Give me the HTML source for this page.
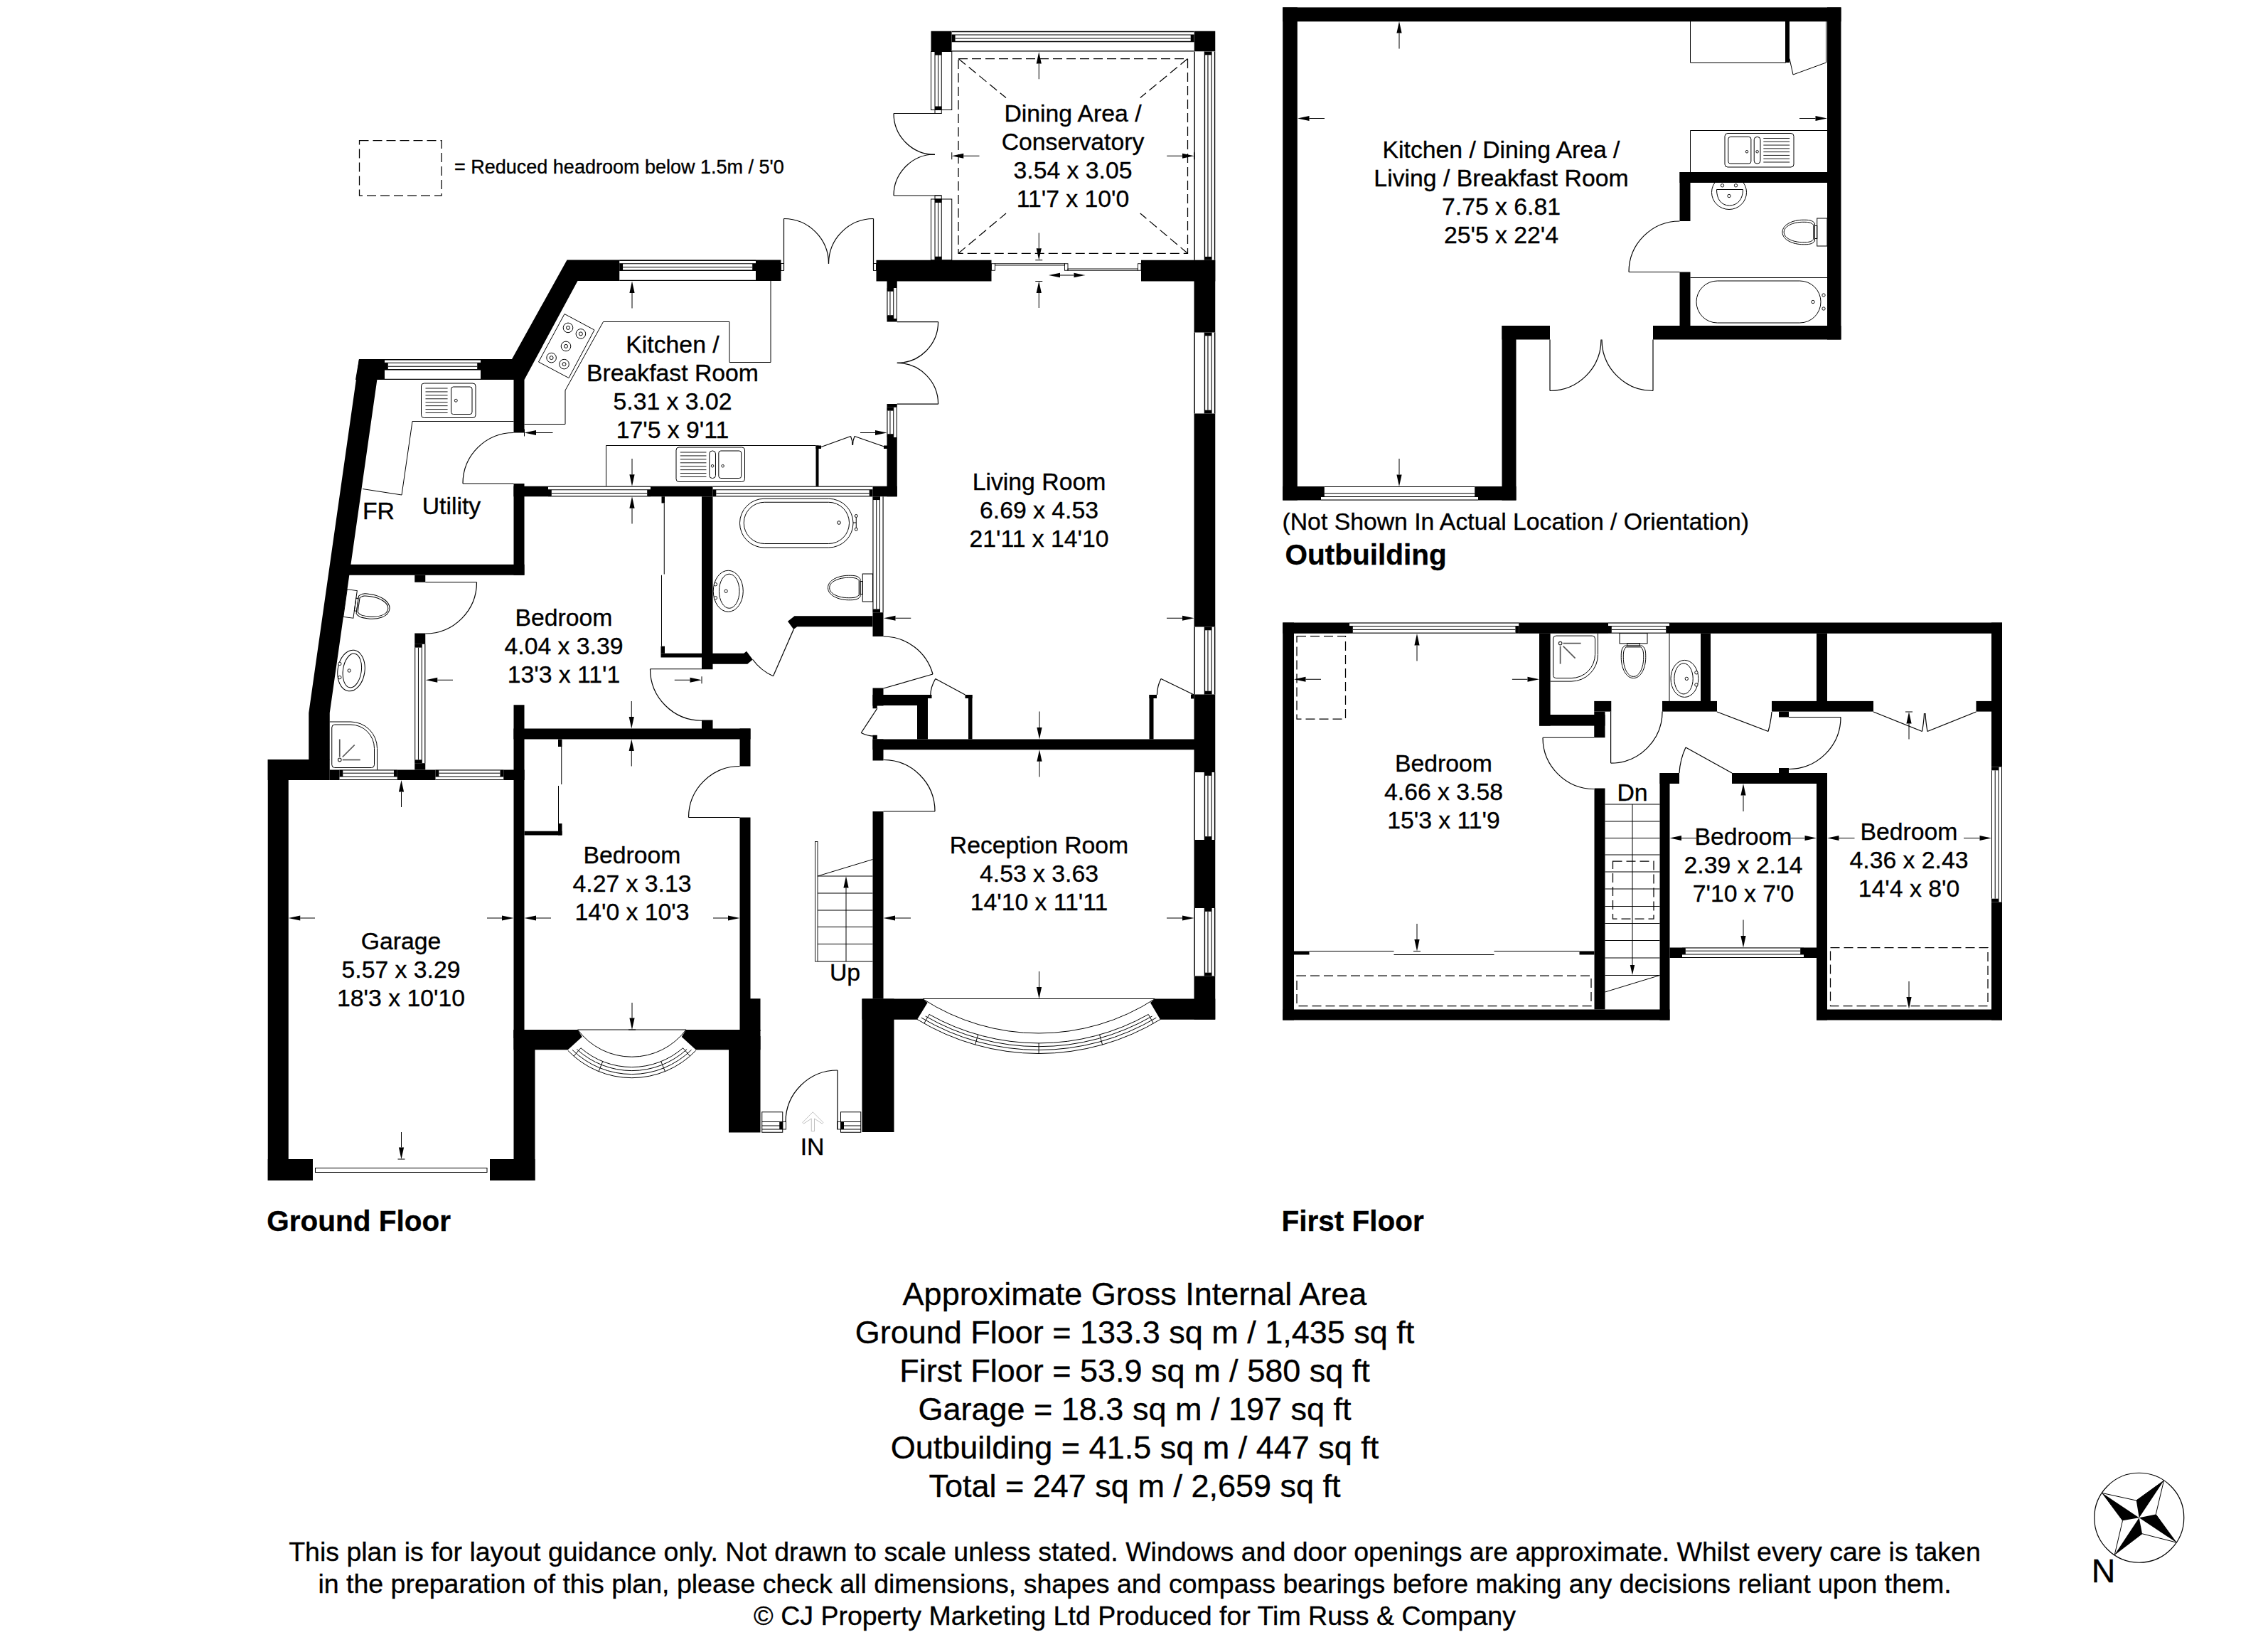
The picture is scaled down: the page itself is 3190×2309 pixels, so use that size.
<!DOCTYPE html>
<html><head><meta charset="utf-8"><title>Floor plan</title>
<style>
html,body{margin:0;padding:0;background:#fff}
svg{display:block}
text{font-family:"Liberation Sans",Arial,Helvetica,sans-serif;fill:#000;stroke:#000;stroke-width:0.35px}
</style></head><body>
<svg width="3190" height="2309" viewBox="0 0 3190 2309">
<rect x="0" y="0" width="3190" height="2309" fill="#fff"/>
<polygon points="797.5,365.5 1098.5,365.5 1098.5,395 812.5,395 737.5,534 720,534 720,505" fill="#000"/>
<rect x="871.25" y="365.5" width="191.75" height="29.5" fill="#fff"/>
<rect x="871.25" y="370.7" width="4.8" height="9.6" fill="#000"/>
<rect x="1058.2" y="370.7" width="4.8" height="9.6" fill="#000"/>
<line x1="871.25" y1="366.2" x2="1063" y2="366.2" stroke="#000" stroke-width="1.4"/>
<line x1="871.25" y1="370.7" x2="1063" y2="370.7" stroke="#000" stroke-width="1.1"/>
<line x1="876.05" y1="375.8" x2="1058.2" y2="375.8" stroke="#000" stroke-width="1.1"/>
<line x1="871.25" y1="380.3" x2="1063" y2="380.3" stroke="#000" stroke-width="1.4"/>
<line x1="871.25" y1="394.4" x2="1063" y2="394.4" stroke="#000" stroke-width="1.4"/>
<polygon points="505,505 721,505 721,534 500,534" fill="#000"/>
<rect x="541" y="505" width="135" height="29" fill="#fff"/>
<rect x="541" y="510.2" width="4.8" height="9.6" fill="#000"/>
<rect x="671.2" y="510.2" width="4.8" height="9.6" fill="#000"/>
<line x1="541" y1="505.7" x2="676" y2="505.7" stroke="#000" stroke-width="1.4"/>
<line x1="541" y1="510.2" x2="676" y2="510.2" stroke="#000" stroke-width="1.1"/>
<line x1="545.8" y1="515.3" x2="671.2" y2="515.3" stroke="#000" stroke-width="1.1"/>
<line x1="541" y1="519.8" x2="676" y2="519.8" stroke="#000" stroke-width="1.4"/>
<line x1="541" y1="533.4" x2="676" y2="533.4" stroke="#000" stroke-width="1.4"/>
<polygon points="505,505 534.5,505 463.75,1002.5 463.75,1068.5 434.25,1068.5 434.25,1002.5" fill="#000"/>
<rect x="376.75" y="1068" width="29" height="592" fill="#000"/>
<rect x="376.75" y="1068" width="87" height="29" fill="#000"/>
<rect x="463.75" y="1082.5" width="273.75" height="14.5" fill="#000"/>
<rect x="477.5" y="1082.5" width="81.25" height="14.5" fill="#fff"/>
<rect x="477.5" y="1082.5" width="4.8" height="9.5" fill="#000"/>
<rect x="553.95" y="1082.5" width="4.8" height="9.5" fill="#000"/>
<line x1="477.5" y1="1096.5" x2="558.75" y2="1096.5" stroke="#000" stroke-width="1"/>
<line x1="477.5" y1="1092" x2="558.75" y2="1092" stroke="#000" stroke-width="1"/>
<line x1="482.3" y1="1087.2" x2="553.95" y2="1087.2" stroke="#000" stroke-width="1"/>
<line x1="482.3" y1="1083" x2="553.95" y2="1083" stroke="#000" stroke-width="1"/>
<rect x="612.5" y="1082.5" width="95.75" height="14.5" fill="#fff"/>
<rect x="612.5" y="1082.5" width="4.8" height="9.5" fill="#000"/>
<rect x="703.45" y="1082.5" width="4.8" height="9.5" fill="#000"/>
<line x1="612.5" y1="1096.5" x2="708.25" y2="1096.5" stroke="#000" stroke-width="1"/>
<line x1="612.5" y1="1092" x2="708.25" y2="1092" stroke="#000" stroke-width="1"/>
<line x1="617.3" y1="1087.2" x2="703.45" y2="1087.2" stroke="#000" stroke-width="1"/>
<line x1="617.3" y1="1083" x2="703.45" y2="1083" stroke="#000" stroke-width="1"/>
<rect x="376.75" y="1630" width="63.25" height="30" fill="#000"/>
<rect x="722.5" y="991.25" width="15" height="468.75" fill="#000"/>
<rect x="722.5" y="1448.5" width="30" height="211.5" fill="#000"/>
<rect x="689" y="1630" width="63.5" height="30" fill="#000"/>
<rect x="443.5" y="1642.5" width="241.5" height="6" fill="none" stroke="#000" stroke-width="1"/>
<rect x="470" y="793.75" width="267.5" height="15" fill="#000"/>
<rect x="722.5" y="534" width="15" height="74.5" fill="#000"/>
<rect x="722.5" y="680" width="15" height="128.75" fill="#000"/>
<rect x="722.5" y="683.75" width="539.25" height="14.5" fill="#000"/>
<rect x="771" y="683.75" width="144" height="14.5" fill="#fff"/>
<rect x="771" y="688.75" width="4.8" height="9.5" fill="#000"/>
<rect x="910.2" y="688.75" width="4.8" height="9.5" fill="#000"/>
<line x1="771" y1="684.25" x2="915" y2="684.25" stroke="#000" stroke-width="1"/>
<line x1="771" y1="688.75" x2="915" y2="688.75" stroke="#000" stroke-width="1"/>
<line x1="775.8" y1="693.55" x2="910.2" y2="693.55" stroke="#000" stroke-width="1"/>
<line x1="775.8" y1="697.75" x2="910.2" y2="697.75" stroke="#000" stroke-width="1"/>
<rect x="1002.5" y="683.75" width="225" height="14.5" fill="#fff"/>
<rect x="1002.5" y="688.75" width="4.8" height="9.5" fill="#000"/>
<rect x="1222.7" y="688.75" width="4.8" height="9.5" fill="#000"/>
<line x1="1002.5" y1="684.25" x2="1227.5" y2="684.25" stroke="#000" stroke-width="1"/>
<line x1="1002.5" y1="688.75" x2="1227.5" y2="688.75" stroke="#000" stroke-width="1"/>
<line x1="1007.3" y1="693.55" x2="1222.7" y2="693.55" stroke="#000" stroke-width="1"/>
<line x1="1007.3" y1="697.75" x2="1222.7" y2="697.75" stroke="#000" stroke-width="1"/>
<rect x="583.25" y="808.75" width="15" height="10" fill="#000"/>
<rect x="583.25" y="890.5" width="15" height="192" fill="#000"/>
<rect x="583.25" y="905.8" width="15" height="167.4" fill="#fff"/>
<rect x="583.25" y="905.8" width="10" height="4.8" fill="#000"/>
<rect x="583.25" y="1068.4" width="10" height="4.8" fill="#000"/>
<line x1="597.75" y1="905.8" x2="597.75" y2="1073.2" stroke="#000" stroke-width="1"/>
<line x1="593.25" y1="905.8" x2="593.25" y2="1073.2" stroke="#000" stroke-width="1"/>
<line x1="588.45" y1="910.6" x2="588.45" y2="1068.4" stroke="#000" stroke-width="1"/>
<line x1="583.75" y1="910.6" x2="583.75" y2="1068.4" stroke="#000" stroke-width="1"/>
<rect x="987" y="698.25" width="15.5" height="243" fill="#000"/>
<rect x="987" y="1012.5" width="15.5" height="12.5" fill="#000"/>
<polygon points="987,918.75 1046.25,918.75 1050,915.75 1058.75,927.5 1051.25,933.75 987,933.75" fill="#000"/>
<rect x="930.5" y="698.25" width="4.5" height="9.25" fill="#000"/>
<line x1="934.25" y1="707.5" x2="934.25" y2="807.5" stroke="#000" stroke-width="1"/>
<line x1="930.5" y1="808.75" x2="930.5" y2="908.75" stroke="#000" stroke-width="1"/>
<rect x="929.5" y="908.75" width="5.5" height="10" fill="#000"/>
<rect x="929.5" y="918.75" width="57.5" height="5.75" fill="#000"/>
<polygon points="1117.5,866.25 1227.5,866.25 1227.5,881.25 1121.25,881.25 1116.25,885 1108,873.75" fill="#000"/>
<rect x="1227.5" y="698.25" width="15" height="196.75" fill="#000"/>
<rect x="1227.5" y="698.25" width="15" height="163" fill="#fff"/>
<rect x="1227.5" y="698.25" width="10" height="4.8" fill="#000"/>
<rect x="1227.5" y="856.45" width="10" height="4.8" fill="#000"/>
<line x1="1242" y1="698.25" x2="1242" y2="861.25" stroke="#000" stroke-width="1"/>
<line x1="1237.5" y1="698.25" x2="1237.5" y2="861.25" stroke="#000" stroke-width="1"/>
<line x1="1232.7" y1="703.05" x2="1232.7" y2="856.45" stroke="#000" stroke-width="1"/>
<line x1="1228" y1="703.05" x2="1228" y2="856.45" stroke="#000" stroke-width="1"/>
<rect x="1247.5" y="395" width="14.25" height="57.5" fill="#000"/>
<rect x="1247.5" y="568" width="14.25" height="130.25" fill="#000"/>
<rect x="1247.5" y="405" width="14.25" height="43" fill="#fff"/>
<rect x="1247.5" y="405" width="9.25" height="4.8" fill="#000"/>
<rect x="1247.5" y="443.2" width="9.25" height="4.8" fill="#000"/>
<line x1="1261.25" y1="405" x2="1261.25" y2="448" stroke="#000" stroke-width="1"/>
<line x1="1256.75" y1="405" x2="1256.75" y2="448" stroke="#000" stroke-width="1"/>
<line x1="1251.95" y1="409.8" x2="1251.95" y2="443.2" stroke="#000" stroke-width="1"/>
<line x1="1248" y1="409.8" x2="1248" y2="443.2" stroke="#000" stroke-width="1"/>
<rect x="1247.5" y="572.8" width="14.25" height="42.2" fill="#fff"/>
<rect x="1247.5" y="572.8" width="9.25" height="4.8" fill="#000"/>
<rect x="1247.5" y="610.2" width="9.25" height="4.8" fill="#000"/>
<line x1="1261.25" y1="572.8" x2="1261.25" y2="615" stroke="#000" stroke-width="1"/>
<line x1="1256.75" y1="572.8" x2="1256.75" y2="615" stroke="#000" stroke-width="1"/>
<line x1="1251.95" y1="577.6" x2="1251.95" y2="610.2" stroke="#000" stroke-width="1"/>
<line x1="1248" y1="577.6" x2="1248" y2="610.2" stroke="#000" stroke-width="1"/>
<rect x="1232.5" y="365.75" width="162" height="29.75" fill="#000"/>
<rect x="1605" y="365.75" width="104.25" height="29.75" fill="#000"/>
<rect x="1309.5" y="43.75" width="29.25" height="28.75" fill="#000"/>
<rect x="1679.5" y="43.75" width="29.75" height="28.75" fill="#000"/>
<rect x="1338.75" y="43.75" width="340.75" height="28.75" fill="#fff"/>
<rect x="1338.75" y="48.95" width="4.8" height="9.6" fill="#000"/>
<rect x="1674.7" y="48.95" width="4.8" height="9.6" fill="#000"/>
<line x1="1338.75" y1="44.45" x2="1679.5" y2="44.45" stroke="#000" stroke-width="1.4"/>
<line x1="1338.75" y1="48.95" x2="1679.5" y2="48.95" stroke="#000" stroke-width="1.1"/>
<line x1="1343.55" y1="54.05" x2="1674.7" y2="54.05" stroke="#000" stroke-width="1.1"/>
<line x1="1338.75" y1="58.55" x2="1679.5" y2="58.55" stroke="#000" stroke-width="1.4"/>
<line x1="1338.75" y1="71.9" x2="1679.5" y2="71.9" stroke="#000" stroke-width="1.4"/>
<rect x="1679.5" y="72.5" width="29.75" height="293.25" fill="#fff"/>
<rect x="1694.45" y="72.5" width="9.6" height="4.8" fill="#000"/>
<rect x="1694.45" y="360.95" width="9.6" height="4.8" fill="#000"/>
<line x1="1708.55" y1="72.5" x2="1708.55" y2="365.75" stroke="#000" stroke-width="1.4"/>
<line x1="1704.05" y1="72.5" x2="1704.05" y2="365.75" stroke="#000" stroke-width="1.1"/>
<line x1="1698.95" y1="77.3" x2="1698.95" y2="360.95" stroke="#000" stroke-width="1.1"/>
<line x1="1694.45" y1="72.5" x2="1694.45" y2="365.75" stroke="#000" stroke-width="1.4"/>
<line x1="1680.1" y1="72.5" x2="1680.1" y2="365.75" stroke="#000" stroke-width="1.4"/>
<rect x="1309.5" y="72.5" width="29.25" height="82" fill="none" stroke="#000" stroke-width="1"/>
<line x1="1315" y1="72.5" x2="1315" y2="154.5" stroke="#000" stroke-width="1"/>
<line x1="1319.5" y1="72.5" x2="1319.5" y2="154.5" stroke="#000" stroke-width="1"/>
<line x1="1324.25" y1="72.5" x2="1324.25" y2="154.5" stroke="#000" stroke-width="1"/>
<rect x="1315" y="72.5" width="9.25" height="5" fill="#000"/>
<rect x="1315" y="149.5" width="9.25" height="5" fill="#000"/>
<rect x="1309.5" y="280" width="29.25" height="85.75" fill="none" stroke="#000" stroke-width="1"/>
<line x1="1315" y1="280" x2="1315" y2="365.75" stroke="#000" stroke-width="1"/>
<line x1="1319.5" y1="280" x2="1319.5" y2="365.75" stroke="#000" stroke-width="1"/>
<line x1="1324.25" y1="280" x2="1324.25" y2="365.75" stroke="#000" stroke-width="1"/>
<rect x="1315" y="280" width="9.25" height="5" fill="#000"/>
<rect x="1315" y="360.75" width="9.25" height="5" fill="#000"/>
<rect x="1315" y="154.5" width="9.25" height="5" fill="none" stroke="#000" stroke-width="1"/>
<rect x="1315" y="275" width="9.25" height="5" fill="none" stroke="#000" stroke-width="1"/>
<line x1="1324.25" y1="159.5" x2="1257" y2="159.5" stroke="#000" stroke-width="1.2"/>
<path d="M1257 159.5 A58 58 0 0 0 1315 217.5" fill="none" stroke="#000" stroke-width="1.2"/>
<line x1="1324.25" y1="275" x2="1257" y2="275" stroke="#000" stroke-width="1.2"/>
<path d="M1257 275 A58 58 0 0 1 1315 217" fill="none" stroke="#000" stroke-width="1.2"/>
<rect x="1399.5" y="370.75" width="98" height="2.25" fill="none" stroke="#000" stroke-width="0.9"/>
<rect x="1502" y="378" width="98.5" height="2.25" fill="none" stroke="#000" stroke-width="0.9"/>
<rect x="1394.5" y="370.75" width="5" height="9.5" fill="none" stroke="#000" stroke-width="0.9"/>
<rect x="1497.5" y="370.75" width="4.5" height="9.5" fill="none" stroke="#000" stroke-width="0.9"/>
<rect x="1600.5" y="370.75" width="4.5" height="9.5" fill="none" stroke="#000" stroke-width="0.9"/>
<line x1="1500" y1="387" x2="1491" y2="387" stroke="#000" stroke-width="1"/>
<polygon points="1475,387 1491,383.8 1491,390.2" fill="#000"/>
<line x1="1500" y1="387" x2="1510.5" y2="387" stroke="#000" stroke-width="1"/>
<polygon points="1526.5,387 1510.5,390.2 1510.5,383.8" fill="#000"/>
<rect x="1679.5" y="365.75" width="29.75" height="1067.75" fill="#000"/>
<rect x="1679.5" y="467.5" width="29.75" height="114" fill="#fff"/>
<rect x="1694.45" y="467.5" width="9.6" height="4.8" fill="#000"/>
<rect x="1694.45" y="576.7" width="9.6" height="4.8" fill="#000"/>
<line x1="1708.55" y1="467.5" x2="1708.55" y2="581.5" stroke="#000" stroke-width="1.4"/>
<line x1="1704.05" y1="467.5" x2="1704.05" y2="581.5" stroke="#000" stroke-width="1.1"/>
<line x1="1698.95" y1="472.3" x2="1698.95" y2="576.7" stroke="#000" stroke-width="1.1"/>
<line x1="1694.45" y1="467.5" x2="1694.45" y2="581.5" stroke="#000" stroke-width="1.4"/>
<line x1="1680.1" y1="467.5" x2="1680.1" y2="581.5" stroke="#000" stroke-width="1.4"/>
<rect x="1679.5" y="881.5" width="29.75" height="95" fill="#fff"/>
<rect x="1694.45" y="881.5" width="9.6" height="4.8" fill="#000"/>
<rect x="1694.45" y="971.7" width="9.6" height="4.8" fill="#000"/>
<line x1="1708.55" y1="881.5" x2="1708.55" y2="976.5" stroke="#000" stroke-width="1.4"/>
<line x1="1704.05" y1="881.5" x2="1704.05" y2="976.5" stroke="#000" stroke-width="1.1"/>
<line x1="1698.95" y1="886.3" x2="1698.95" y2="971.7" stroke="#000" stroke-width="1.1"/>
<line x1="1694.45" y1="881.5" x2="1694.45" y2="976.5" stroke="#000" stroke-width="1.4"/>
<line x1="1680.1" y1="881.5" x2="1680.1" y2="976.5" stroke="#000" stroke-width="1.4"/>
<rect x="1679.5" y="1086" width="29.75" height="95" fill="#fff"/>
<rect x="1694.45" y="1086" width="9.6" height="4.8" fill="#000"/>
<rect x="1694.45" y="1176.2" width="9.6" height="4.8" fill="#000"/>
<line x1="1708.55" y1="1086" x2="1708.55" y2="1181" stroke="#000" stroke-width="1.4"/>
<line x1="1704.05" y1="1086" x2="1704.05" y2="1181" stroke="#000" stroke-width="1.1"/>
<line x1="1698.95" y1="1090.8" x2="1698.95" y2="1176.2" stroke="#000" stroke-width="1.1"/>
<line x1="1694.45" y1="1086" x2="1694.45" y2="1181" stroke="#000" stroke-width="1.4"/>
<line x1="1680.1" y1="1086" x2="1680.1" y2="1181" stroke="#000" stroke-width="1.4"/>
<rect x="1679.5" y="1277" width="29.75" height="95.5" fill="#fff"/>
<rect x="1694.45" y="1277" width="9.6" height="4.8" fill="#000"/>
<rect x="1694.45" y="1367.7" width="9.6" height="4.8" fill="#000"/>
<line x1="1708.55" y1="1277" x2="1708.55" y2="1372.5" stroke="#000" stroke-width="1.4"/>
<line x1="1704.05" y1="1277" x2="1704.05" y2="1372.5" stroke="#000" stroke-width="1.1"/>
<line x1="1698.95" y1="1281.8" x2="1698.95" y2="1367.7" stroke="#000" stroke-width="1.1"/>
<line x1="1694.45" y1="1277" x2="1694.45" y2="1372.5" stroke="#000" stroke-width="1.4"/>
<line x1="1680.1" y1="1277" x2="1680.1" y2="1372.5" stroke="#000" stroke-width="1.4"/>
<rect x="1227.5" y="1039.5" width="481.5" height="14.75" fill="#000"/>
<rect x="1227.5" y="1039.5" width="15" height="30" fill="#000"/>
<rect x="1227.5" y="1141" width="15" height="263.5" fill="#000"/>
<rect x="1212.5" y="1404.5" width="45" height="187.5" fill="#000"/>
<polygon points="1212.5,1404.5 1298,1404.5 1304.6,1410 1290,1433.75 1212.5,1433.75" fill="#000"/>
<polygon points="1624.2,1404.5 1709.25,1404.5 1709.25,1433.75 1632,1433.75 1618,1410" fill="#000"/>
<rect x="1227.5" y="967.5" width="15" height="25" fill="#000"/>
<rect x="1227.5" y="977" width="77.5" height="15" fill="#000"/>
<rect x="1305" y="977" width="5.5" height="5" fill="#000"/>
<rect x="1227.5" y="992" width="6.25" height="4.25" fill="#000"/>
<rect x="1227.5" y="1033.75" width="6.25" height="5.75" fill="#000"/>
<rect x="1290" y="992" width="15" height="47.5" fill="#000"/>
<rect x="1362" y="977" width="5.5" height="62.5" fill="#000"/>
<rect x="1357.5" y="977" width="10" height="5" fill="#000"/>
<rect x="1616.5" y="977" width="6" height="62.5" fill="#000"/>
<rect x="1616.5" y="977" width="10.5" height="5" fill="#000"/>
<rect x="722.5" y="1024.5" width="333" height="15" fill="#000"/>
<rect x="1040.5" y="1024.5" width="15" height="53" fill="#000"/>
<rect x="1040.5" y="1149.5" width="15" height="299" fill="#000"/>
<rect x="1050" y="1404.25" width="19.5" height="45.75" fill="#000"/>
<polygon points="722.5,1448 812.5,1448 818.75,1458 798.75,1476.25 722.5,1476.25" fill="#000"/>
<polygon points="965,1448 1069.5,1448 1069.5,1476.25 978.75,1476.25 958.75,1458" fill="#000"/>
<rect x="1025" y="1457" width="44.5" height="135.5" fill="#000"/>
<rect x="785" y="1039.5" width="5.5" height="10.5" fill="#000"/>
<line x1="789.75" y1="1050" x2="789.75" y2="1103" stroke="#000" stroke-width="1"/>
<line x1="785.5" y1="1105" x2="785.5" y2="1158" stroke="#000" stroke-width="1"/>
<rect x="785" y="1158" width="5.5" height="16.5" fill="#000"/>
<rect x="737.5" y="1168.75" width="53" height="5.75" fill="#000"/>
<line x1="722.5" y1="680" x2="651" y2="680" stroke="#000" stroke-width="1.2"/>
<path d="M651 680 A71.5 71.5 0 0 1 722.5 608.5" fill="none" stroke="#000" stroke-width="1.2"/>
<line x1="598.25" y1="818.75" x2="670.5" y2="818.75" stroke="#000" stroke-width="1.2"/>
<path d="M670.5 818.75 A72.25 72.25 0 0 1 598.25 891" fill="none" stroke="#000" stroke-width="1.2"/>
<line x1="987" y1="940.75" x2="914.5" y2="940.75" stroke="#000" stroke-width="1.2"/>
<path d="M914.5 940.75 A72.5 72.5 0 0 0 987 1013.25" fill="none" stroke="#000" stroke-width="1.2"/>
<line x1="1116.25" y1="885" x2="1087.5" y2="950.75" stroke="#000" stroke-width="1.2"/>
<path d="M1087.5 950.75 A71.5 71.5 0 0 1 1058.75 927.5" fill="none" stroke="#000" stroke-width="1.2"/>
<line x1="1242.5" y1="968" x2="1312" y2="948" stroke="#000" stroke-width="1.2"/>
<path d="M1312 948 A72.3 72.3 0 0 0 1242.5 895" fill="none" stroke="#000" stroke-width="1.2"/>
<line x1="1242.5" y1="1141" x2="1315" y2="1141" stroke="#000" stroke-width="1.2"/>
<path d="M1315 1141 A72.5 72.5 0 0 0 1242.5 1068.5" fill="none" stroke="#000" stroke-width="1.2"/>
<line x1="1040.5" y1="1149.5" x2="968.5" y2="1149.5" stroke="#000" stroke-width="1.2"/>
<path d="M968.5 1149.5 A72 72 0 0 1 1040.5 1077.5" fill="none" stroke="#000" stroke-width="1.2"/>
<line x1="1233.75" y1="996.25" x2="1211.25" y2="1030.5" stroke="#000" stroke-width="1.2"/>
<path d="M1211.25 1030.5 Q1222 1036 1233.75 1035" fill="none" stroke="#000" stroke-width="1.2"/>
<line x1="1315.75" y1="954.5" x2="1357.5" y2="977" stroke="#000" stroke-width="1.2"/>
<path d="M1315.75 954.5 Q1309 966 1308.75 977.5" fill="none" stroke="#000" stroke-width="1.2"/>
<line x1="1679.3" y1="977" x2="1633" y2="954.5" stroke="#000" stroke-width="1.2"/>
<path d="M1633 954.5 Q1627.6 965 1627.4 977" fill="none" stroke="#000" stroke-width="1.2"/>
<rect x="1675" y="976.5" width="4.5" height="6" fill="#000"/>
<line x1="1102.5" y1="307.5" x2="1102.5" y2="380" stroke="#000" stroke-width="1.2"/>
<line x1="1228.5" y1="307.5" x2="1228.5" y2="380" stroke="#000" stroke-width="1.2"/>
<path d="M1102.5 307.5 A63.2 63.2 0 0 1 1165.5 370.7" fill="none" stroke="#000" stroke-width="1.2"/>
<path d="M1228.5 307.5 A63.2 63.2 0 0 0 1165.5 370.7" fill="none" stroke="#000" stroke-width="1.2"/>
<rect x="1098.5" y="370.5" width="4" height="10" fill="none" stroke="#000" stroke-width="0.9"/>
<rect x="1228.5" y="370.5" width="4" height="10" fill="none" stroke="#000" stroke-width="0.9"/>
<line x1="1261.75" y1="452.6" x2="1319.6" y2="452.6" stroke="#000" stroke-width="1.2"/>
<line x1="1261.75" y1="568.2" x2="1319.6" y2="568.2" stroke="#000" stroke-width="1.2"/>
<path d="M1319.6 452.6 A57.8 57.8 0 0 1 1261.8 510.4" fill="none" stroke="#000" stroke-width="1.2"/>
<path d="M1319.6 568.2 A57.8 57.8 0 0 0 1261.8 510.4" fill="none" stroke="#000" stroke-width="1.2"/>
<line x1="1178" y1="1505" x2="1178" y2="1587.5" stroke="#000" stroke-width="1.2"/>
<path d="M1178 1505 A73 72.5 0 0 0 1105 1577.5" fill="none" stroke="#000" stroke-width="1.2"/>
<rect x="1071.75" y="1563.75" width="29" height="28.5" fill="none" stroke="#000" stroke-width="1"/>
<line x1="1071.75" y1="1577.5" x2="1100.75" y2="1577.5" stroke="#000" stroke-width="1"/>
<line x1="1071.75" y1="1583" x2="1100.75" y2="1583" stroke="#000" stroke-width="1"/>
<line x1="1071.75" y1="1588" x2="1100.75" y2="1588" stroke="#000" stroke-width="1"/>
<rect x="1096.25" y="1577.5" width="4.5" height="10.5" fill="#000"/>
<rect x="1182.5" y="1563.75" width="28.25" height="28.5" fill="none" stroke="#000" stroke-width="1"/>
<line x1="1182.5" y1="1577.5" x2="1210.75" y2="1577.5" stroke="#000" stroke-width="1"/>
<line x1="1182.5" y1="1583" x2="1210.75" y2="1583" stroke="#000" stroke-width="1"/>
<line x1="1182.5" y1="1588" x2="1210.75" y2="1588" stroke="#000" stroke-width="1"/>
<rect x="1182.5" y="1577.5" width="4.5" height="10.5" fill="#000"/>
<rect x="1100.75" y="1577.5" width="4.75" height="10.5" fill="none" stroke="#000" stroke-width="0.9"/>
<rect x="1177.5" y="1577.5" width="5" height="10.5" fill="none" stroke="#000" stroke-width="0.9"/>
<line x1="1298" y1="1404.5" x2="1624.2" y2="1404.5" stroke="#000" stroke-width="1"/>
<path d="M1298.12 1404.83 A300.05 300.05 0 0 0 1624.08 1404.83" fill="none" stroke="#000" stroke-width="1"/>
<path d="M1306.96 1426.46 A314 314 0 0 0 1615.24 1426.46" fill="none" stroke="#000" stroke-width="1"/>
<path d="M1301.7 1428.99 A318.8 318.8 0 0 0 1620.5 1428.99" fill="none" stroke="#000" stroke-width="1"/>
<path d="M1295.89 1431.15 A323.6 323.6 0 0 0 1626.31 1431.15" fill="none" stroke="#000" stroke-width="1"/>
<path d="M1289.9 1433.38 A328.6 328.6 0 0 0 1632.3 1433.38" fill="none" stroke="#000" stroke-width="1"/>
<line x1="1615.24" y1="1426.46" x2="1622.41" y2="1439.18" stroke="#000" stroke-width="1"/>
<line x1="1546.6" y1="1455.04" x2="1550.57" y2="1469.08" stroke="#000" stroke-width="1"/>
<line x1="1461.1" y1="1466.9" x2="1461.1" y2="1481.5" stroke="#000" stroke-width="1"/>
<line x1="1375.6" y1="1455.04" x2="1371.63" y2="1469.08" stroke="#000" stroke-width="1"/>
<line x1="1306.96" y1="1426.46" x2="1299.79" y2="1439.18" stroke="#000" stroke-width="1"/>
<line x1="812.5" y1="1448" x2="965" y2="1448" stroke="#000" stroke-width="1"/>
<path d="M812.5 1447.93 A95.1 95.1 0 0 0 965 1447.93" fill="none" stroke="#000" stroke-width="1"/>
<path d="M816.91 1473.74 A109.5 109.5 0 0 0 960.59 1473.74" fill="none" stroke="#000" stroke-width="1"/>
<path d="M811.39 1475.52 A114.5 114.5 0 0 0 966.11 1475.52" fill="none" stroke="#000" stroke-width="1"/>
<path d="M804.99 1476.33 A119.5 119.5 0 0 0 972.51 1476.33" fill="none" stroke="#000" stroke-width="1"/>
<path d="M798.82 1477.34 A124.6 124.6 0 0 0 978.68 1477.34" fill="none" stroke="#000" stroke-width="1"/>
<line x1="960.59" y1="1473.74" x2="970.49" y2="1485.14" stroke="#000" stroke-width="1"/>
<line x1="929.77" y1="1492.63" x2="935.43" y2="1506.63" stroke="#000" stroke-width="1"/>
<line x1="847.73" y1="1492.63" x2="842.07" y2="1506.63" stroke="#000" stroke-width="1"/>
<line x1="816.91" y1="1473.74" x2="807.01" y2="1485.14" stroke="#000" stroke-width="1"/>
<rect x="1146.5" y="1183.5" width="3.5" height="168.5" fill="none" stroke="#000" stroke-width="0.9"/>
<line x1="1150" y1="1232" x2="1227.5" y2="1232" stroke="#000" stroke-width="1"/>
<line x1="1150" y1="1256" x2="1227.5" y2="1256" stroke="#000" stroke-width="1"/>
<line x1="1150" y1="1280" x2="1227.5" y2="1280" stroke="#000" stroke-width="1"/>
<line x1="1150" y1="1303.5" x2="1227.5" y2="1303.5" stroke="#000" stroke-width="1"/>
<line x1="1150" y1="1327.5" x2="1227.5" y2="1327.5" stroke="#000" stroke-width="1"/>
<line x1="1150" y1="1352" x2="1227.5" y2="1352" stroke="#000" stroke-width="1"/>
<line x1="1150" y1="1232" x2="1227.5" y2="1208.5" stroke="#000" stroke-width="1"/>
<line x1="1190" y1="1352" x2="1190" y2="1248.5" stroke="#000" stroke-width="1"/>
<polygon points="1190,1232 1193.6,1248.5 1186.4,1248.5" fill="#000"/>
<path d="M1141.25 1590.75 V1573 L1130.5 1580 L1128.75 1578.5 L1143.25 1563.75 L1158 1578.5 L1156.25 1580 L1145.5 1573 V1590.75 Z" fill="none" stroke="#b0b0b0" stroke-width="0.8"/>
<polyline points="737.5,596.5 795,596.5 795,549 848.5,452.5 1026,452.5 1026,509.5 1084,509.5 1084,395" fill="none" stroke="#000" stroke-width="1"/>
<polygon points="794,441.5 836,464 800,531.5 757.5,509" fill="none" stroke="#000" stroke-width="1"/>
<circle cx="799" cy="460.9" r="6.8" fill="none" stroke="#000" stroke-width="1"/>
<circle cx="799" cy="460.9" r="2.5" fill="none" stroke="#000" stroke-width="1"/>
<circle cx="816.9" cy="469.4" r="6.8" fill="none" stroke="#000" stroke-width="1"/>
<circle cx="816.9" cy="469.4" r="2.5" fill="none" stroke="#000" stroke-width="1"/>
<circle cx="796" cy="486.9" r="6.8" fill="none" stroke="#000" stroke-width="1"/>
<circle cx="796" cy="486.9" r="2.5" fill="none" stroke="#000" stroke-width="1"/>
<circle cx="775.6" cy="503.1" r="6.8" fill="none" stroke="#000" stroke-width="1"/>
<circle cx="775.6" cy="503.1" r="2.5" fill="none" stroke="#000" stroke-width="1"/>
<circle cx="793.5" cy="512.1" r="6.8" fill="none" stroke="#000" stroke-width="1"/>
<circle cx="793.5" cy="512.1" r="2.5" fill="none" stroke="#000" stroke-width="1"/>
<polyline points="852.5,683.5 852.5,626.5 1147.5,626.5" fill="none" stroke="#000" stroke-width="1"/>
<rect x="1147.5" y="626.5" width="4" height="57.25" fill="#000"/>
<rect x="1147.5" y="626.5" width="7.5" height="4.5" fill="#000"/>
<rect x="1243" y="626.5" width="5" height="4.5" fill="#000"/>
<line x1="1155" y1="628.5" x2="1196.5" y2="613.5" stroke="#000" stroke-width="1.2"/>
<line x1="1245" y1="628.5" x2="1202" y2="613.5" stroke="#000" stroke-width="1.2"/>
<path d="M1196.5 613.5 Q1199 619 1199 626 M1202 613.5 Q1199.5 619 1199.5 626" fill="none" stroke="#000" stroke-width="1.2"/>
<rect x="951" y="629" width="96.5" height="48.5" fill="none" stroke="#000" stroke-width="1" rx="4"/>
<line x1="956.79" y1="636" x2="993.46" y2="636" stroke="#000" stroke-width="0.9"/>
<line x1="956.79" y1="640.93" x2="993.46" y2="640.93" stroke="#000" stroke-width="0.9"/>
<line x1="956.79" y1="645.86" x2="993.46" y2="645.86" stroke="#000" stroke-width="0.9"/>
<line x1="956.79" y1="650.79" x2="993.46" y2="650.79" stroke="#000" stroke-width="0.9"/>
<line x1="956.79" y1="655.71" x2="993.46" y2="655.71" stroke="#000" stroke-width="0.9"/>
<line x1="956.79" y1="660.64" x2="993.46" y2="660.64" stroke="#000" stroke-width="0.9"/>
<line x1="956.79" y1="665.57" x2="993.46" y2="665.57" stroke="#000" stroke-width="0.9"/>
<line x1="956.79" y1="670.5" x2="993.46" y2="670.5" stroke="#000" stroke-width="0.9"/>
<rect x="997.8" y="634" width="8.68" height="38.5" fill="none" stroke="#000" stroke-width="1" rx="4"/>
<circle cx="1002.14" cy="655.25" r="1.8" fill="none" stroke="#000" stroke-width="0.9"/>
<rect x="1010.83" y="634" width="31.84" height="38.5" fill="none" stroke="#000" stroke-width="1" rx="3"/>
<circle cx="1016.62" cy="655.25" r="1.8" fill="none" stroke="#000" stroke-width="0.9"/>
<polyline points="722.5,592.5 580,592.5 565,696 510,687.5" fill="none" stroke="#000" stroke-width="1"/>
<rect x="592.5" y="539" width="76.5" height="48.5" fill="none" stroke="#000" stroke-width="1" rx="4"/>
<rect x="634.58" y="544" width="29.42" height="38.5" fill="none" stroke="#000" stroke-width="1" rx="3"/>
<circle cx="641.29" cy="563.25" r="2" fill="none" stroke="#000" stroke-width="0.9"/>
<line x1="598.5" y1="546" x2="629.58" y2="546" stroke="#000" stroke-width="0.9"/>
<line x1="598.5" y1="550.93" x2="629.58" y2="550.93" stroke="#000" stroke-width="0.9"/>
<line x1="598.5" y1="555.86" x2="629.58" y2="555.86" stroke="#000" stroke-width="0.9"/>
<line x1="598.5" y1="560.79" x2="629.58" y2="560.79" stroke="#000" stroke-width="0.9"/>
<line x1="598.5" y1="565.71" x2="629.58" y2="565.71" stroke="#000" stroke-width="0.9"/>
<line x1="598.5" y1="570.64" x2="629.58" y2="570.64" stroke="#000" stroke-width="0.9"/>
<line x1="598.5" y1="575.57" x2="629.58" y2="575.57" stroke="#000" stroke-width="0.9"/>
<line x1="598.5" y1="580.5" x2="629.58" y2="580.5" stroke="#000" stroke-width="0.9"/>
<rect x="1040.5" y="701.25" width="159.5" height="68.75" fill="none" stroke="#000" stroke-width="1" rx="34.4"/>
<rect x="1046.25" y="706.25" width="148.25" height="58.25" fill="none" stroke="#000" stroke-width="1" rx="29"/>
<circle cx="1180" cy="735" r="2.3" fill="none" stroke="#000" stroke-width="1"/>
<circle cx="1204.25" cy="725.5" r="2" fill="none" stroke="#000" stroke-width="1"/>
<circle cx="1204.25" cy="744.25" r="2" fill="none" stroke="#000" stroke-width="1"/>
<line x1="1204.25" y1="727.5" x2="1204.25" y2="742.25" stroke="#000" stroke-width="1"/>
<line x1="1200" y1="735" x2="1204.25" y2="735" stroke="#000" stroke-width="1"/>
<ellipse cx="1024.25" cy="831.25" rx="21" ry="29" fill="none" stroke="#000" stroke-width="1"/>
<ellipse cx="1025.72" cy="831.25" rx="14.28" ry="24.07" fill="none" stroke="#000" stroke-width="1"/>
<circle cx="1006.4" cy="821.68" r="2.2" fill="#fff" stroke="#000" stroke-width="0.9"/>
<circle cx="1006.4" cy="840.82" r="2.2" fill="#fff" stroke="#000" stroke-width="0.9"/>
<circle cx="1021.1" cy="831.25" r="2.2" fill="none" stroke="#000" stroke-width="0.9"/>
<g transform="translate(1227.5 826.5) rotate(180)">
<rect x="0" y="-19.5" width="14.25" height="39" fill="#fff" stroke="#000" stroke-width="1"/>
<rect x="14.25" y="-9" width="3.25" height="18" fill="none" stroke="#000" stroke-width="1"/>
<path d="M17.5 -12.42 C21.14 -17.25 26.6 -17.25 33.88 -17.25 C48.44 -17.25 63 -10.7 63 0 C63 10.7 48.44 17.25 33.88 17.25 C26.6 17.25 21.14 17.25 17.5 12.42 Z" fill="#fff" stroke="#000" stroke-width="1"/>
<path d="M19.3 -10.22 C22.62 -14.2 27.6 -14.2 34.24 -14.2 C47.52 -14.2 60.8 -8.8 60.8 0 C60.8 8.8 47.52 14.2 34.24 14.2 C27.6 14.2 22.62 14.2 19.3 10.22 Z" fill="none" stroke="#000" stroke-width="1"/>
</g>
<ellipse cx="494" cy="943" rx="19" ry="29" fill="none" stroke="#000" stroke-width="1" transform="rotate(8 494 943)"/>
<ellipse cx="495.33" cy="943" rx="12.92" ry="24.07" fill="none" stroke="#000" stroke-width="1" transform="rotate(8 495.33 943)"/>
<circle cx="477.85" cy="933.43" r="2.2" fill="#fff" stroke="#000" stroke-width="0.9"/>
<circle cx="477.85" cy="952.57" r="2.2" fill="#fff" stroke="#000" stroke-width="0.9"/>
<circle cx="491.15" cy="943" r="2.2" fill="none" stroke="#000" stroke-width="0.9"/>
<g transform="translate(485.5 848) rotate(8)">
<rect x="0" y="-19.5" width="14.25" height="39" fill="#fff" stroke="#000" stroke-width="1"/>
<rect x="14.25" y="-9" width="3.25" height="18" fill="none" stroke="#000" stroke-width="1"/>
<path d="M17.5 -12.42 C21.14 -17.25 26.6 -17.25 33.88 -17.25 C48.44 -17.25 63 -10.7 63 0 C63 10.7 48.44 17.25 33.88 17.25 C26.6 17.25 21.14 17.25 17.5 12.42 Z" fill="#fff" stroke="#000" stroke-width="1"/>
<path d="M19.3 -10.22 C22.62 -14.2 27.6 -14.2 34.24 -14.2 C47.52 -14.2 60.8 -8.8 60.8 0 C60.8 8.8 47.52 14.2 34.24 14.2 C27.6 14.2 22.62 14.2 19.3 10.22 Z" fill="none" stroke="#000" stroke-width="1"/>
</g>
<path d="M463.75 1015 H493.12 A37.38 37.38 0 0 1 530.5 1052.38 V1082.5" fill="none" stroke="#000" stroke-width="1"/>
<path d="M470.75 1019 H493.12 A33.38 33.38 0 0 1 526.5 1052.38 V1075.5 Q526.5 1079.5 522.5 1079.5 H470.75 Q466.75 1079.5 466.75 1075.5 V1023 Q466.75 1019 470.75 1019 Z" fill="none" stroke="#000" stroke-width="1"/>
<circle cx="477.75" cy="1068.5" r="2.3" fill="none" stroke="#333" stroke-width="1.2"/>
<line x1="481.75" y1="1068.5" x2="506.75" y2="1068.5" stroke="#555" stroke-width="1.7"/>
<line x1="477.75" y1="1064.5" x2="477.75" y2="1039.5" stroke="#555" stroke-width="1.7"/>
<line x1="481.75" y1="1064.5" x2="498.75" y2="1047.5" stroke="#555" stroke-width="1.7"/>
<line x1="889" y1="433.5" x2="889" y2="412" stroke="#000" stroke-width="1"/>
<polygon points="889,395.5 892.6,412 885.4,412" fill="#000"/>
<line x1="889" y1="645" x2="889" y2="667.25" stroke="#000" stroke-width="1"/>
<polygon points="889,683.75 885.4,667.25 892.6,667.25" fill="#000"/>
<line x1="889" y1="736.5" x2="889" y2="714.75" stroke="#000" stroke-width="1"/>
<polygon points="889,698.25 892.6,714.75 885.4,714.75" fill="#000"/>
<line x1="777.5" y1="608.5" x2="754" y2="608.5" stroke="#000" stroke-width="1"/>
<polygon points="737.5,608.5 754,604.9 754,612.1" fill="#000"/>
<line x1="737.5" y1="603.5" x2="737.5" y2="613.5" stroke="#000" stroke-width="1"/>
<line x1="1210" y1="608.5" x2="1231" y2="608.5" stroke="#000" stroke-width="1"/>
<polygon points="1247.5,608.5 1231,612.1 1231,604.9" fill="#000"/>
<line x1="637" y1="956.25" x2="615.25" y2="956.25" stroke="#000" stroke-width="1"/>
<polygon points="598.75,956.25 615.25,952.65 615.25,959.85" fill="#000"/>
<line x1="948.75" y1="956.25" x2="970.5" y2="956.25" stroke="#000" stroke-width="1"/>
<polygon points="987,956.25 970.5,959.85 970.5,952.65" fill="#000"/>
<line x1="987" y1="961.25" x2="987" y2="951.25" stroke="#000" stroke-width="1"/>
<line x1="888.25" y1="986" x2="888.25" y2="1008" stroke="#000" stroke-width="1"/>
<polygon points="888.25,1024.5 884.65,1008 891.85,1008" fill="#000"/>
<line x1="888.25" y1="1077.5" x2="888.25" y2="1056" stroke="#000" stroke-width="1"/>
<polygon points="888.25,1039.5 891.85,1056 884.65,1056" fill="#000"/>
<line x1="564.5" y1="1135" x2="564.5" y2="1113.5" stroke="#000" stroke-width="1"/>
<polygon points="564.5,1097 568.1,1113.5 560.9,1113.5" fill="#000"/>
<line x1="564.5" y1="1592" x2="564.5" y2="1613.5" stroke="#000" stroke-width="1"/>
<polygon points="564.5,1630 560.9,1613.5 568.1,1613.5" fill="#000"/>
<line x1="559.5" y1="1630" x2="569.5" y2="1630" stroke="#000" stroke-width="1"/>
<line x1="443" y1="1291" x2="422.25" y2="1291" stroke="#000" stroke-width="1"/>
<polygon points="405.75,1291 422.25,1287.4 422.25,1294.6" fill="#000"/>
<line x1="685" y1="1291" x2="706" y2="1291" stroke="#000" stroke-width="1"/>
<polygon points="722.5,1291 706,1294.6 706,1287.4" fill="#000"/>
<line x1="775" y1="1291" x2="754" y2="1291" stroke="#000" stroke-width="1"/>
<polygon points="737.5,1291 754,1287.4 754,1294.6" fill="#000"/>
<line x1="1003" y1="1291" x2="1024" y2="1291" stroke="#000" stroke-width="1"/>
<polygon points="1040.5,1291 1024,1294.6 1024,1287.4" fill="#000"/>
<line x1="889" y1="1410" x2="889" y2="1431.5" stroke="#000" stroke-width="1"/>
<polygon points="889,1448 885.4,1431.5 892.6,1431.5" fill="#000"/>
<line x1="884" y1="1448" x2="894" y2="1448" stroke="#000" stroke-width="1"/>
<line x1="1281.25" y1="869.25" x2="1259.5" y2="869.25" stroke="#000" stroke-width="1"/>
<polygon points="1243,869.25 1259.5,865.65 1259.5,872.85" fill="#000"/>
<line x1="1641" y1="869.25" x2="1663" y2="869.25" stroke="#000" stroke-width="1"/>
<polygon points="1679.5,869.25 1663,872.85 1663,865.65" fill="#000"/>
<line x1="1462" y1="1000.5" x2="1462" y2="1023" stroke="#000" stroke-width="1"/>
<polygon points="1462,1039.5 1458.4,1023 1465.6,1023" fill="#000"/>
<line x1="1462" y1="1092.5" x2="1462" y2="1070.75" stroke="#000" stroke-width="1"/>
<polygon points="1462,1054.25 1465.6,1070.75 1458.4,1070.75" fill="#000"/>
<line x1="1281" y1="1291" x2="1259" y2="1291" stroke="#000" stroke-width="1"/>
<polygon points="1242.5,1291 1259,1287.4 1259,1294.6" fill="#000"/>
<line x1="1641" y1="1291" x2="1663" y2="1291" stroke="#000" stroke-width="1"/>
<polygon points="1679.5,1291 1663,1294.6 1663,1287.4" fill="#000"/>
<line x1="1461.5" y1="1366" x2="1461.5" y2="1388" stroke="#000" stroke-width="1"/>
<polygon points="1461.5,1404.5 1457.9,1388 1465.1,1388" fill="#000"/>
<line x1="1456.5" y1="1404.5" x2="1466.5" y2="1404.5" stroke="#000" stroke-width="1"/>
<line x1="1461.25" y1="111.25" x2="1461.25" y2="89.5" stroke="#000" stroke-width="1"/>
<polygon points="1461.25,73 1464.85,89.5 1457.65,89.5" fill="#000"/>
<line x1="1461.25" y1="327.5" x2="1461.25" y2="349.25" stroke="#000" stroke-width="1"/>
<polygon points="1461.25,365.75 1457.65,349.25 1464.85,349.25" fill="#000"/>
<line x1="1456.25" y1="365.75" x2="1466.25" y2="365.75" stroke="#000" stroke-width="1"/>
<line x1="1461.25" y1="433" x2="1461.25" y2="412" stroke="#000" stroke-width="1"/>
<polygon points="1461.25,395.5 1464.85,412 1457.65,412" fill="#000"/>
<line x1="1466.25" y1="395.5" x2="1456.25" y2="395.5" stroke="#000" stroke-width="1"/>
<line x1="1377.5" y1="219.25" x2="1355.25" y2="219.25" stroke="#000" stroke-width="1"/>
<polygon points="1338.75,219.25 1355.25,215.65 1355.25,222.85" fill="#000"/>
<line x1="1338.75" y1="214.25" x2="1338.75" y2="224.25" stroke="#000" stroke-width="1"/>
<line x1="1641.25" y1="219.25" x2="1663" y2="219.25" stroke="#000" stroke-width="1"/>
<polygon points="1679.5,219.25 1663,222.85 1663,215.65" fill="#000"/>
<line x1="1679.5" y1="224.25" x2="1679.5" y2="214.25" stroke="#000" stroke-width="1"/>
<rect x="1348" y="82.5" width="322.5" height="273.75" fill="none" stroke="#000" stroke-width="1.25" stroke-dasharray="13 6"/>
<line x1="1348" y1="82.5" x2="1415" y2="137.5" stroke="#000" stroke-width="1.25" stroke-dasharray="13 6"/>
<line x1="1670.5" y1="82.5" x2="1603.75" y2="137.5" stroke="#000" stroke-width="1.25" stroke-dasharray="13 6"/>
<line x1="1348" y1="356.25" x2="1415" y2="300" stroke="#000" stroke-width="1.25" stroke-dasharray="13 6"/>
<line x1="1670.5" y1="356.25" x2="1603.75" y2="300" stroke="#000" stroke-width="1.25" stroke-dasharray="13 6"/>
<rect x="505.5" y="197.5" width="115.5" height="77.5" fill="none" stroke="#000" stroke-width="1.25" stroke-dasharray="13 6"/>
<text x="639" y="243.5" font-size="27" text-anchor="start">= Reduced headroom below 1.5m / 5'0</text>
<text x="1509" y="170.6" font-size="33.75" text-anchor="middle">Dining Area /</text>
<text x="1509" y="210.8" font-size="33.75" text-anchor="middle">Conservatory</text>
<text x="1509" y="251" font-size="33.75" text-anchor="middle">3.54 x 3.05</text>
<text x="1509" y="291.2" font-size="33.75" text-anchor="middle">11'7 x 10'0</text>
<text x="946" y="495.5" font-size="33.75" text-anchor="middle">Kitchen /</text>
<text x="946" y="535.7" font-size="33.75" text-anchor="middle">Breakfast Room</text>
<text x="946" y="575.9" font-size="33.75" text-anchor="middle">5.31 x 3.02</text>
<text x="946" y="616.1" font-size="33.75" text-anchor="middle">17'5 x 9'11</text>
<text x="1461.5" y="688.5" font-size="33.75" text-anchor="middle">Living Room</text>
<text x="1461.5" y="728.7" font-size="33.75" text-anchor="middle">6.69 x 4.53</text>
<text x="1461.5" y="768.9" font-size="33.75" text-anchor="middle">21'11 x 14'10</text>
<text x="793" y="879.5" font-size="33.75" text-anchor="middle">Bedroom</text>
<text x="793" y="919.7" font-size="33.75" text-anchor="middle">4.04 x 3.39</text>
<text x="793" y="959.9" font-size="33.75" text-anchor="middle">13'3 x 11'1</text>
<text x="889" y="1214" font-size="33.75" text-anchor="middle">Bedroom</text>
<text x="889" y="1254.2" font-size="33.75" text-anchor="middle">4.27 x 3.13</text>
<text x="889" y="1294.4" font-size="33.75" text-anchor="middle">14'0 x 10'3</text>
<text x="564" y="1335" font-size="33.75" text-anchor="middle">Garage</text>
<text x="564" y="1375.2" font-size="33.75" text-anchor="middle">5.57 x 3.29</text>
<text x="564" y="1415.4" font-size="33.75" text-anchor="middle">18'3 x 10'10</text>
<text x="1461.5" y="1200" font-size="33.75" text-anchor="middle">Reception Room</text>
<text x="1461.5" y="1240.2" font-size="33.75" text-anchor="middle">4.53 x 3.63</text>
<text x="1461.5" y="1280.4" font-size="33.75" text-anchor="middle">14'10 x 11'11</text>
<text x="532.5" y="730" font-size="33.75" text-anchor="middle">FR</text>
<text x="635" y="722.5" font-size="33.75" text-anchor="middle">Utility</text>
<text x="1188.5" y="1378.5" font-size="33.75" text-anchor="middle">Up</text>
<text x="1142.5" y="1623.5" font-size="33.75" text-anchor="middle">IN</text>
<text x="375.2" y="1731" font-size="40.5" text-anchor="start" font-weight="bold">Ground Floor</text>
<rect x="1804.2" y="875.5" width="1011.8" height="15.3" fill="#000"/>
<rect x="1804.2" y="875.5" width="15.8" height="559" fill="#000"/>
<rect x="1804.2" y="1419.5" width="544.3" height="15" fill="#000"/>
<rect x="2555" y="1419.5" width="261" height="15" fill="#000"/>
<rect x="2801" y="875.6" width="15" height="558.9" fill="#000"/>
<rect x="1898" y="875.6" width="238.25" height="15" fill="#fff"/>
<rect x="1898" y="880.6" width="4.8" height="10" fill="#000"/>
<rect x="2131.45" y="880.6" width="4.8" height="10" fill="#000"/>
<line x1="1898" y1="876.1" x2="2136.25" y2="876.1" stroke="#000" stroke-width="1"/>
<line x1="1898" y1="880.6" x2="2136.25" y2="880.6" stroke="#000" stroke-width="1"/>
<line x1="1902.8" y1="885.4" x2="2131.45" y2="885.4" stroke="#000" stroke-width="1"/>
<line x1="1902.8" y1="890.1" x2="2131.45" y2="890.1" stroke="#000" stroke-width="1"/>
<rect x="2262" y="875.6" width="86" height="15" fill="#fff"/>
<rect x="2262" y="880.6" width="4.8" height="10" fill="#000"/>
<rect x="2343.2" y="880.6" width="4.8" height="10" fill="#000"/>
<line x1="2262" y1="876.1" x2="2348" y2="876.1" stroke="#000" stroke-width="1"/>
<line x1="2262" y1="880.6" x2="2348" y2="880.6" stroke="#000" stroke-width="1"/>
<line x1="2266.8" y1="885.4" x2="2343.2" y2="885.4" stroke="#000" stroke-width="1"/>
<line x1="2266.8" y1="890.1" x2="2343.2" y2="890.1" stroke="#000" stroke-width="1"/>
<rect x="2801" y="1078.5" width="15" height="190" fill="#fff"/>
<rect x="2801" y="1078.5" width="10" height="4.8" fill="#000"/>
<rect x="2801" y="1263.7" width="10" height="4.8" fill="#000"/>
<line x1="2815.5" y1="1078.5" x2="2815.5" y2="1268.5" stroke="#000" stroke-width="1"/>
<line x1="2811" y1="1078.5" x2="2811" y2="1268.5" stroke="#000" stroke-width="1"/>
<line x1="2806.2" y1="1083.3" x2="2806.2" y2="1263.7" stroke="#000" stroke-width="1"/>
<line x1="2801.5" y1="1083.3" x2="2801.5" y2="1263.7" stroke="#000" stroke-width="1"/>
<rect x="2165" y="890.6" width="15.6" height="130" fill="#000"/>
<rect x="2165" y="1005" width="92.5" height="15.6" fill="#000"/>
<rect x="2242.25" y="985.9" width="24" height="14.7" fill="#000"/>
<rect x="2242.25" y="1000.6" width="15.25" height="36.65" fill="#000"/>
<rect x="2242.5" y="1108.5" width="15" height="311" fill="#000"/>
<rect x="2392" y="890.6" width="14" height="95.4" fill="#000"/>
<rect x="2338" y="985.9" width="77" height="14.7" fill="#000"/>
<rect x="2555" y="890.6" width="15" height="95.4" fill="#000"/>
<rect x="2492" y="985.9" width="143" height="14.7" fill="#000"/>
<rect x="2502" y="1000.6" width="14" height="7.9" fill="#000"/>
<rect x="2502" y="1080" width="14" height="7" fill="#000"/>
<rect x="2779.5" y="985.9" width="21.5" height="14.7" fill="#000"/>
<rect x="2334.5" y="1087" width="14" height="347.5" fill="#000"/>
<rect x="2334.5" y="1087" width="27.5" height="15" fill="#000"/>
<rect x="2436" y="1087" width="134" height="15" fill="#000"/>
<rect x="2555" y="1087" width="15" height="347.5" fill="#000"/>
<rect x="2348.5" y="1332.5" width="206.5" height="14.5" fill="#000"/>
<rect x="2366" y="1332.5" width="171" height="14.5" fill="#fff"/>
<rect x="2366" y="1332.5" width="4.8" height="9.5" fill="#000"/>
<rect x="2532.2" y="1332.5" width="4.8" height="9.5" fill="#000"/>
<line x1="2366" y1="1346.5" x2="2537" y2="1346.5" stroke="#000" stroke-width="1"/>
<line x1="2366" y1="1342" x2="2537" y2="1342" stroke="#000" stroke-width="1"/>
<line x1="2370.8" y1="1337.2" x2="2532.2" y2="1337.2" stroke="#000" stroke-width="1"/>
<line x1="2370.8" y1="1333" x2="2532.2" y2="1333" stroke="#000" stroke-width="1"/>
<line x1="2348" y1="890.6" x2="2348" y2="986" stroke="#000" stroke-width="1"/>
<rect x="1820" y="1337.5" width="21.5" height="5" fill="#000"/>
<rect x="2221.5" y="1337.5" width="21" height="5" fill="#000"/>
<line x1="1841.5" y1="1337.5" x2="1960.5" y2="1337.5" stroke="#000" stroke-width="1"/>
<line x1="2101.5" y1="1337.5" x2="2221.5" y2="1337.5" stroke="#000" stroke-width="1"/>
<line x1="1960.5" y1="1342.5" x2="2101.5" y2="1342.5" stroke="#000" stroke-width="1"/>
<rect x="1824" y="894.5" width="68.5" height="116.5" fill="none" stroke="#000" stroke-width="1.25" stroke-dasharray="13 6"/>
<rect x="1824" y="1372" width="414" height="42.5" fill="none" stroke="#000" stroke-width="1.25" stroke-dasharray="13 6"/>
<rect x="2574.5" y="1332.5" width="221.5" height="82" fill="none" stroke="#000" stroke-width="1.25" stroke-dasharray="13 6"/>
<rect x="2268.5" y="1211" width="57.5" height="81" fill="none" stroke="#000" stroke-width="1.25" stroke-dasharray="13 6"/>
<line x1="2242.25" y1="1037.25" x2="2170" y2="1037.25" stroke="#000" stroke-width="1.2"/>
<path d="M2170 1037.25 A72.25 72.25 0 0 0 2242.25 1109.5" fill="none" stroke="#000" stroke-width="1.2"/>
<line x1="2265.6" y1="1000.6" x2="2265.6" y2="1073.1" stroke="#000" stroke-width="1.2"/>
<path d="M2265.6 1073.1 A72.5 72.5 0 0 0 2338.1 1000.6" fill="none" stroke="#000" stroke-width="1.2"/>
<line x1="2415" y1="1001" x2="2487" y2="1028.5" stroke="#000" stroke-width="1.2"/>
<path d="M2487 1028.5 Q2491 1014 2492 1001" fill="none" stroke="#000" stroke-width="1.2"/>
<line x1="2436" y1="1087" x2="2371" y2="1051" stroke="#000" stroke-width="1.2"/>
<path d="M2371 1051 Q2363 1068 2362 1087" fill="none" stroke="#000" stroke-width="1.2"/>
<line x1="2516" y1="1008.5" x2="2589" y2="1008.5" stroke="#000" stroke-width="1.2"/>
<path d="M2589 1008.5 A73 73 0 0 1 2516 1081.5" fill="none" stroke="#000" stroke-width="1.2"/>
<line x1="2635" y1="1001" x2="2703.5" y2="1028.5" stroke="#000" stroke-width="1.2"/>
<line x1="2779.5" y1="1001" x2="2711" y2="1028.5" stroke="#000" stroke-width="1.2"/>
<path d="M2703.5 1028.5 Q2706 1015 2706.5 1003 M2711 1028.5 Q2708.5 1015 2708 1003" fill="none" stroke="#000" stroke-width="1.2"/>
<line x1="2257.5" y1="1131" x2="2334.5" y2="1131" stroke="#000" stroke-width="1"/>
<line x1="2257.5" y1="1155" x2="2334.5" y2="1155" stroke="#000" stroke-width="1"/>
<line x1="2257.5" y1="1178.5" x2="2334.5" y2="1178.5" stroke="#000" stroke-width="1"/>
<line x1="2257.5" y1="1202" x2="2334.5" y2="1202" stroke="#000" stroke-width="1"/>
<line x1="2257.5" y1="1226" x2="2334.5" y2="1226" stroke="#000" stroke-width="1"/>
<line x1="2257.5" y1="1250" x2="2334.5" y2="1250" stroke="#000" stroke-width="1"/>
<line x1="2257.5" y1="1274.5" x2="2334.5" y2="1274.5" stroke="#000" stroke-width="1"/>
<line x1="2257.5" y1="1298.5" x2="2334.5" y2="1298.5" stroke="#000" stroke-width="1"/>
<line x1="2257.5" y1="1322.5" x2="2334.5" y2="1322.5" stroke="#000" stroke-width="1"/>
<line x1="2257.5" y1="1347" x2="2334.5" y2="1347" stroke="#000" stroke-width="1"/>
<line x1="2257.5" y1="1371.5" x2="2334.5" y2="1371.5" stroke="#000" stroke-width="1"/>
<line x1="2257.5" y1="1395" x2="2334.5" y2="1371.5" stroke="#000" stroke-width="1"/>
<line x1="2296" y1="1131" x2="2296" y2="1357" stroke="#000" stroke-width="1"/>
<polygon points="2296,1371 2292.8,1357 2299.2,1357" fill="#000"/>
<path d="M2247.5 890.6 V920.64 A37.46 37.46 0 0 1 2210.04 958.1 H2180.6" fill="none" stroke="#000" stroke-width="1"/>
<path d="M2188.6 894.1 H2239.5 Q2243.5 894.1 2243.5 898.1 V920.14 A33.46 33.46 0 0 1 2210.04 953.6 H2188.6 Q2184.6 953.6 2184.6 949.6 V898.1 Q2184.6 894.1 2188.6 894.1 Z" fill="none" stroke="#000" stroke-width="1"/>
<circle cx="2194.6" cy="904.6" r="2.3" fill="none" stroke="#333" stroke-width="1.2"/>
<line x1="2198.6" y1="904.6" x2="2223.6" y2="904.6" stroke="#555" stroke-width="1.7"/>
<line x1="2194.6" y1="908.6" x2="2194.6" y2="933.6" stroke="#555" stroke-width="1.7"/>
<line x1="2198.6" y1="908.6" x2="2215.6" y2="925.6" stroke="#555" stroke-width="1.7"/>
<g transform="translate(2297.5 890.6) rotate(90)">
<rect x="0" y="-19.5" width="14.25" height="39" fill="#fff" stroke="#000" stroke-width="1"/>
<rect x="14.25" y="-9" width="3.25" height="18" fill="none" stroke="#000" stroke-width="1"/>
<path d="M17.5 -12.42 C21.14 -17.25 26.6 -17.25 33.88 -17.25 C48.44 -17.25 63 -10.7 63 0 C63 10.7 48.44 17.25 33.88 17.25 C26.6 17.25 21.14 17.25 17.5 12.42 Z" fill="#fff" stroke="#000" stroke-width="1"/>
<path d="M19.3 -10.22 C22.62 -14.2 27.6 -14.2 34.24 -14.2 C47.52 -14.2 60.8 -8.8 60.8 0 C60.8 8.8 47.52 14.2 34.24 14.2 C27.6 14.2 22.62 14.2 19.3 10.22 Z" fill="none" stroke="#000" stroke-width="1"/>
</g>
<ellipse cx="2369.4" cy="954.4" rx="19.4" ry="26" fill="none" stroke="#000" stroke-width="1"/>
<ellipse cx="2368.04" cy="954.4" rx="13.19" ry="21.58" fill="none" stroke="#000" stroke-width="1"/>
<circle cx="2385.89" cy="945.82" r="2.2" fill="#fff" stroke="#000" stroke-width="0.9"/>
<circle cx="2385.89" cy="962.98" r="2.2" fill="#fff" stroke="#000" stroke-width="0.9"/>
<circle cx="2372.31" cy="954.4" r="2.2" fill="none" stroke="#000" stroke-width="0.9"/>
<line x1="2126.9" y1="955.25" x2="2148.5" y2="955.25" stroke="#000" stroke-width="1"/>
<polygon points="2165,955.25 2148.5,958.85 2148.5,951.65" fill="#000"/>
<line x1="1858" y1="955.25" x2="1836.5" y2="955.25" stroke="#000" stroke-width="1"/>
<polygon points="1820,955.25 1836.5,951.65 1836.5,958.85" fill="#000"/>
<line x1="1993" y1="929.5" x2="1993" y2="907.5" stroke="#000" stroke-width="1"/>
<polygon points="1993,891 1996.6,907.5 1989.4,907.5" fill="#000"/>
<line x1="1993" y1="1299" x2="1993" y2="1321" stroke="#000" stroke-width="1"/>
<polygon points="1993,1337.5 1989.4,1321 1996.6,1321" fill="#000"/>
<line x1="1988" y1="1337.5" x2="1998" y2="1337.5" stroke="#000" stroke-width="1"/>
<line x1="2452" y1="1141" x2="2452" y2="1118.5" stroke="#000" stroke-width="1"/>
<polygon points="2452,1102 2455.6,1118.5 2448.4,1118.5" fill="#000"/>
<line x1="2452" y1="1293.5" x2="2452" y2="1316" stroke="#000" stroke-width="1"/>
<polygon points="2452,1332.5 2448.4,1316 2455.6,1316" fill="#000"/>
<line x1="2386" y1="1178.5" x2="2365" y2="1178.5" stroke="#000" stroke-width="1"/>
<polygon points="2348.5,1178.5 2365,1174.9 2365,1182.1" fill="#000"/>
<line x1="2518.5" y1="1178.5" x2="2538.5" y2="1178.5" stroke="#000" stroke-width="1"/>
<polygon points="2555,1178.5 2538.5,1182.1 2538.5,1174.9" fill="#000"/>
<line x1="2608.5" y1="1178.5" x2="2586.5" y2="1178.5" stroke="#000" stroke-width="1"/>
<polygon points="2570,1178.5 2586.5,1174.9 2586.5,1182.1" fill="#000"/>
<line x1="2762" y1="1178.5" x2="2784.5" y2="1178.5" stroke="#000" stroke-width="1"/>
<polygon points="2801,1178.5 2784.5,1182.1 2784.5,1174.9" fill="#000"/>
<line x1="2685" y1="1380" x2="2685" y2="1402" stroke="#000" stroke-width="1"/>
<polygon points="2685,1418.5 2681.4,1402 2688.6,1402" fill="#000"/>
<line x1="2685" y1="1039.5" x2="2685" y2="1017.5" stroke="#000" stroke-width="1"/>
<polygon points="2685,1001 2688.6,1017.5 2681.4,1017.5" fill="#000"/>
<line x1="2690" y1="1001" x2="2680" y2="1001" stroke="#000" stroke-width="1"/>
<text x="2030.5" y="1084.5" font-size="33.75" text-anchor="middle">Bedroom</text>
<text x="2030.5" y="1124.7" font-size="33.75" text-anchor="middle">4.66 x 3.58</text>
<text x="2030.5" y="1164.9" font-size="33.75" text-anchor="middle">15'3 x 11'9</text>
<text x="2452" y="1187.5" font-size="33.75" text-anchor="middle">Bedroom</text>
<text x="2452" y="1227.7" font-size="33.75" text-anchor="middle">2.39 x 2.14</text>
<text x="2452" y="1267.9" font-size="33.75" text-anchor="middle">7'10 x 7'0</text>
<text x="2685" y="1181" font-size="33.75" text-anchor="middle">Bedroom</text>
<text x="2685" y="1221.2" font-size="33.75" text-anchor="middle">4.36 x 2.43</text>
<text x="2685" y="1261.4" font-size="33.75" text-anchor="middle">14'4 x 8'0</text>
<text x="2296" y="1126" font-size="33.75" text-anchor="middle">Dn</text>
<text x="1802.5" y="1730.5" font-size="40.5" text-anchor="start" font-weight="bold">First Floor</text>
<ellipse cx="2432" cy="270.5" rx="24.5" ry="24" fill="none" stroke="#000" stroke-width="1"/>
<path d="M2414.5 266.5 H2451.5 C2451.5 280 2444 289 2432.5 289 C2421 289 2414.5 280 2414.5 266.5 Z" fill="none" stroke="#000" stroke-width="1"/>
<circle cx="2432" cy="275.5" r="2.2" fill="none" stroke="#000" stroke-width="0.9"/>
<rect x="1804.2" y="10.4" width="20.6" height="693.1" fill="#000"/>
<rect x="1804.2" y="10.4" width="785.3" height="19.9" fill="#000"/>
<rect x="2570" y="10.4" width="19.5" height="467.1" fill="#000"/>
<rect x="2325" y="458" width="264.5" height="19.5" fill="#000"/>
<rect x="2112.5" y="458" width="67.5" height="19.5" fill="#000"/>
<rect x="2112.5" y="458" width="20" height="245.5" fill="#000"/>
<rect x="1804.2" y="684" width="328.3" height="19.5" fill="#000"/>
<rect x="1858" y="684" width="221" height="19.5" fill="#fff"/>
<rect x="1858" y="684" width="4.8" height="14.5" fill="#000"/>
<rect x="2074.2" y="684" width="4.8" height="14.5" fill="#000"/>
<line x1="1858" y1="703" x2="2079" y2="703" stroke="#000" stroke-width="1"/>
<line x1="1858" y1="698.5" x2="2079" y2="698.5" stroke="#000" stroke-width="1"/>
<line x1="1862.8" y1="693.7" x2="2074.2" y2="693.7" stroke="#000" stroke-width="1"/>
<line x1="1862.8" y1="684.5" x2="2074.2" y2="684.5" stroke="#000" stroke-width="1"/>
<rect x="2362.5" y="242" width="207.5" height="15" fill="#000"/>
<rect x="2362.5" y="242" width="15" height="69" fill="#000"/>
<rect x="2362.5" y="382.5" width="15" height="75.5" fill="#000"/>
<circle cx="2422.5" cy="260.8" r="2.2" fill="#fff" stroke="#000" stroke-width="0.9"/>
<circle cx="2441.5" cy="260.8" r="2.2" fill="#fff" stroke="#000" stroke-width="0.9"/>
<line x1="2362.5" y1="382.5" x2="2291" y2="382.5" stroke="#000" stroke-width="1.2"/>
<path d="M2291 382.5 A71.5 71.5 0 0 1 2362.5 311" fill="none" stroke="#000" stroke-width="1.2"/>
<line x1="2180" y1="477.5" x2="2180" y2="549.5" stroke="#000" stroke-width="1.2"/>
<path d="M2180 549.5 A72 72 0 0 0 2252 477.5" fill="none" stroke="#000" stroke-width="1.2"/>
<line x1="2325" y1="477.5" x2="2325" y2="549.5" stroke="#000" stroke-width="1.2"/>
<path d="M2325 549.5 A72 72 0 0 1 2253 477.5" fill="none" stroke="#000" stroke-width="1.2"/>
<polyline points="2377.5,30 2377.5,88 2512,88" fill="none" stroke="#000" stroke-width="1"/>
<rect x="2511" y="30" width="6" height="58" fill="#000"/>
<line x1="2568.5" y1="30" x2="2568.5" y2="88" stroke="#000" stroke-width="1"/>
<polyline points="2517,82.5 2522,105 2568.5,88" fill="none" stroke="#000" stroke-width="1"/>
<polyline points="2570,183.5 2377.5,183.5 2377.5,242" fill="none" stroke="#000" stroke-width="1"/>
<rect x="2426" y="187.5" width="97" height="47.5" fill="none" stroke="#000" stroke-width="1" rx="4"/>
<line x1="2517.18" y1="194.5" x2="2480.32" y2="194.5" stroke="#000" stroke-width="0.9"/>
<line x1="2517.18" y1="199.29" x2="2480.32" y2="199.29" stroke="#000" stroke-width="0.9"/>
<line x1="2517.18" y1="204.07" x2="2480.32" y2="204.07" stroke="#000" stroke-width="0.9"/>
<line x1="2517.18" y1="208.86" x2="2480.32" y2="208.86" stroke="#000" stroke-width="0.9"/>
<line x1="2517.18" y1="213.64" x2="2480.32" y2="213.64" stroke="#000" stroke-width="0.9"/>
<line x1="2517.18" y1="218.43" x2="2480.32" y2="218.43" stroke="#000" stroke-width="0.9"/>
<line x1="2517.18" y1="223.21" x2="2480.32" y2="223.21" stroke="#000" stroke-width="0.9"/>
<line x1="2517.18" y1="228" x2="2480.32" y2="228" stroke="#000" stroke-width="0.9"/>
<rect x="2467.22" y="192.5" width="8.73" height="37.5" fill="none" stroke="#000" stroke-width="1" rx="4"/>
<circle cx="2471.59" cy="213.25" r="1.8" fill="none" stroke="#000" stroke-width="0.9"/>
<rect x="2430.85" y="192.5" width="32.01" height="37.5" fill="none" stroke="#000" stroke-width="1" rx="3"/>
<circle cx="2457.04" cy="213.25" r="1.8" fill="none" stroke="#000" stroke-width="0.9"/>
<g transform="translate(2570 326.5) rotate(180)">
<rect x="0" y="-19.5" width="14.25" height="39" fill="#fff" stroke="#000" stroke-width="1"/>
<rect x="14.25" y="-9" width="3.25" height="18" fill="none" stroke="#000" stroke-width="1"/>
<path d="M17.5 -12.42 C21.14 -17.25 26.6 -17.25 33.88 -17.25 C48.44 -17.25 63 -10.7 63 0 C63 10.7 48.44 17.25 33.88 17.25 C26.6 17.25 21.14 17.25 17.5 12.42 Z" fill="#fff" stroke="#000" stroke-width="1"/>
<path d="M19.3 -10.22 C22.62 -14.2 27.6 -14.2 34.24 -14.2 C47.52 -14.2 60.8 -8.8 60.8 0 C60.8 8.8 47.52 14.2 34.24 14.2 C27.6 14.2 22.62 14.2 19.3 10.22 Z" fill="none" stroke="#000" stroke-width="1"/>
</g>
<line x1="2377.5" y1="390.5" x2="2570" y2="390.5" stroke="#000" stroke-width="1"/>
<rect x="2386" y="395" width="175" height="59" fill="none" stroke="#000" stroke-width="1" rx="29.5"/>
<circle cx="2550" cy="424.5" r="2.2" fill="none" stroke="#000" stroke-width="0.9"/>
<circle cx="2565" cy="415" r="2.2" fill="none" stroke="#000" stroke-width="0.9"/>
<circle cx="2565" cy="434" r="2.2" fill="none" stroke="#000" stroke-width="0.9"/>
<line x1="1968" y1="68.5" x2="1968" y2="46.5" stroke="#000" stroke-width="1"/>
<polygon points="1968,30 1971.6,46.5 1964.4,46.5" fill="#000"/>
<line x1="1968" y1="645" x2="1968" y2="667.5" stroke="#000" stroke-width="1"/>
<polygon points="1968,684 1964.4,667.5 1971.6,667.5" fill="#000"/>
<line x1="1863" y1="166.5" x2="1841.5" y2="166.5" stroke="#000" stroke-width="1"/>
<polygon points="1825,166.5 1841.5,162.9 1841.5,170.1" fill="#000"/>
<line x1="2531" y1="166.5" x2="2553.5" y2="166.5" stroke="#000" stroke-width="1"/>
<polygon points="2570,166.5 2553.5,170.1 2553.5,162.9" fill="#000"/>
<text x="2111.5" y="221.5" font-size="33.75" text-anchor="middle">Kitchen / Dining Area /</text>
<text x="2111.5" y="261.7" font-size="33.75" text-anchor="middle">Living / Breakfast Room</text>
<text x="2111.5" y="301.9" font-size="33.75" text-anchor="middle">7.75 x 6.81</text>
<text x="2111.5" y="342.1" font-size="33.75" text-anchor="middle">25'5 x 22'4</text>
<text x="1803.5" y="745" font-size="33.75" text-anchor="start">(Not Shown In Actual Location / Orientation)</text>
<text x="1807.5" y="794" font-size="40.5" text-anchor="start" font-weight="bold">Outbuilding</text>
<text x="1596" y="1834.8" font-size="45" text-anchor="middle">Approximate Gross Internal Area</text>
<text x="1596" y="1888.8" font-size="45" text-anchor="middle">Ground Floor = 133.3 sq m / 1,435 sq ft</text>
<text x="1596" y="1942.8" font-size="45" text-anchor="middle">First Floor = 53.9 sq m / 580 sq ft</text>
<text x="1596" y="1996.8" font-size="45" text-anchor="middle">Garage = 18.3 sq m / 197 sq ft</text>
<text x="1596" y="2050.8" font-size="45" text-anchor="middle">Outbuilding = 41.5 sq m / 447 sq ft</text>
<text x="1596" y="2104.8" font-size="45" text-anchor="middle">Total = 247 sq m / 2,659 sq ft</text>
<text x="1596" y="2194.5" font-size="37.5" text-anchor="middle">This plan is for layout guidance only. Not drawn to scale unless stated. Windows and door openings are approximate. Whilst every care is taken</text>
<text x="1596" y="2239.5" font-size="37.5" text-anchor="middle">in the preparation of this plan, please check all dimensions, shapes and compass bearings before making any decisions reliant upon them.</text>
<text x="1596" y="2284.5" font-size="37.5" text-anchor="middle">© CJ Property Marketing Ltd Produced for Tim Russ &amp; Company</text>
<circle cx="3008.75" cy="2134.25" r="63" fill="none" stroke="#000" stroke-width="1.2"/>
<polygon points="2974.25,2186.25 3013,2156.75 3061,2169 3032.25,2129.5 3043.5,2082 3004.75,2110 2956.75,2099.5 2985.5,2138.25" fill="#fff" stroke="#000" stroke-width="1"/>
<polygon points="2974.25,2186.25 3013,2156.75 3008.75,2134.25" fill="#000"/>
<polygon points="3061,2169 3032.25,2129.5 3008.75,2134.25" fill="#000"/>
<polygon points="3043.5,2082 3004.75,2110 3008.75,2134.25" fill="#000"/>
<polygon points="2956.75,2099.5 2985.5,2138.25 3008.75,2134.25" fill="#000"/>
<text x="2958.5" y="2225" font-size="46.5" text-anchor="middle">N</text>
</svg>
</body></html>
